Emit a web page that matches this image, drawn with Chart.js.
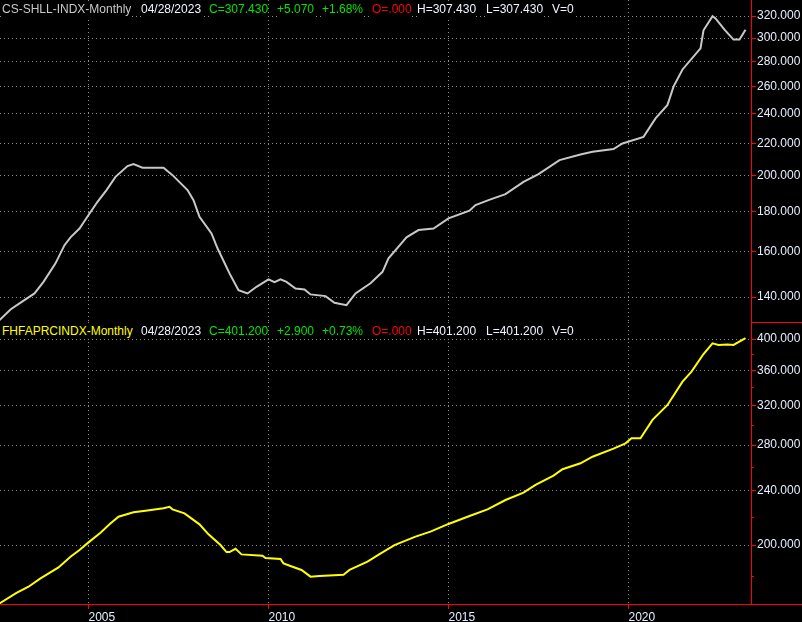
<!DOCTYPE html>
<html lang="en">
<head>
<meta charset="UTF-8">
<title>CS-SHLL-INDX / FHFAPRCINDX Monthly</title>
<script src="https://cdn.jsdelivr.net/npm/chart.js"></script>
<style>
  html, body { margin: 0; padding: 0; background: #000; }
  body {
    width: 802px; height: 622px; position: relative; overflow: hidden;
    font-family: "Liberation Sans", Arial, sans-serif; font-size: 12px;
  }
  .pane { position: absolute; left: 0; width: 802px; }
  #topPane { top: 0; height: 322px; }
  #bottomPane { top: 322px; height: 300px; }
  .hdr span { position: absolute; white-space: nowrap; line-height: 16px; background: #000; z-index: 2; }
  .red { position: absolute; background: #ff0000; z-index: 3; }
  .g { color: #00e600; } .r { color: #ff0000; } .w { color: #f2f4ff; }
</style>
</head>
<body>
<div class="pane" id="topPane"><canvas id="topChart"></canvas></div>
<div class="pane" id="bottomPane"><canvas id="bottomChart"></canvas></div>

<div class="hdr">
  <span style="left:2px;top:1px;color:#c8c8c8">CS-SHLL-INDX-Monthly</span>
  <span class="w" style="left:141px;top:1px">04/28/2023</span>
  <span class="g" style="left:209px;top:1px">C=307.430</span>
  <span class="g" style="left:277px;top:1px">+5.070</span>
  <span class="g" style="left:322px;top:1px">+1.68%</span>
  <span class="r" style="left:372px;top:1px">O=.000</span>
  <span class="w" style="left:417px;top:1px">H=307.430</span>
  <span class="w" style="left:486px;top:1px">L=307.430</span>
  <span class="w" style="left:552px;top:1px">V=0</span>

  <span style="left:2px;top:323px;color:#ffff00">FHFAPRCINDX-Monthly</span>
  <span class="w" style="left:141px;top:323px">04/28/2023</span>
  <span class="g" style="left:209px;top:323px">C=401.200</span>
  <span class="g" style="left:277px;top:323px">+2.900</span>
  <span class="g" style="left:322px;top:323px">+0.73%</span>
  <span class="r" style="left:372px;top:323px">O=.000</span>
  <span class="w" style="left:417px;top:323px">H=401.200</span>
  <span class="w" style="left:486px;top:323px">L=401.200</span>
  <span class="w" style="left:552px;top:323px">V=0</span>
</div>

<div class="red" style="left:751px;top:0;width:1px;height:604px"></div>
<div class="red" style="left:751px;top:322px;width:51px;height:1px"></div>
<div class="red" style="left:0;top:604px;width:802px;height:1px"></div>

<script>
// Case-Shiller index (top panel)
const shillerMonths = ['2002-07','2002-11','2003-02','2003-07','2003-10','2004-02','2004-05','2004-07','2004-10','2004-12',
  '2005-04','2005-07','2005-10','2006-02','2006-04','2006-07','2006-10','2007-02','2007-05','2007-10','2007-12',
  '2008-02','2008-06','2008-08','2008-12','2009-03','2009-06','2009-09','2010-01','2010-03','2010-05','2010-07',
  '2010-10','2011-01','2011-03','2011-08','2011-11','2012-03','2012-06','2012-11','2013-03','2013-05','2013-09',
  '2013-11','2014-03','2014-08','2015-01','2015-08','2015-10','2016-03','2016-08','2017-02','2017-07','2018-02',
  '2018-09','2019-01','2019-08','2019-11','2020-06','2020-10','2021-02','2021-04','2021-07','2022-01','2022-02',
  '2022-05','2022-06','2022-09','2022-12','2023-02','2023-04'];
const shillerValues = [130.5,135.0,137.4,141.5,146.4,154.6,163.1,166.9,171.3,175.9,
  185.3,191.8,199.4,205.8,207.0,204.8,204.8,204.8,200.4,191.8,186.2,
  177.3,168.8,161.6,150.1,142.9,141.5,144.3,147.5,146.3,147.5,146.4,
  143.6,143.2,141.1,140.4,137.7,136.7,141.5,145.8,150.8,156.9,163.5,
  166.9,170.5,171.3,176.5,180.5,183.5,186.6,189.5,196.5,201.0,209.5,
  213.0,214.7,216.4,220.0,224.3,236.8,246.4,260.0,273.5,291.0,306.9,
  319.9,317.8,307.5,298.6,298.6,307.43];

// FHFA purchase-only index (bottom panel)
const fhfaMonths = ['2002-07','2003-01','2003-05','2003-09','2004-03','2004-07','2004-10','2005-01','2005-05','2005-08',
  '2005-11','2006-04','2006-08','2007-02','2007-04','2007-05','2007-09','2008-02','2008-05','2008-09','2008-11',
  '2008-12','2009-02','2009-04','2009-11','2009-12','2010-05','2010-06','2010-09','2010-12','2011-03','2011-06',
  '2012-02','2012-04','2012-10','2013-02','2013-07','2014-02','2014-07','2015-01','2015-08','2016-02','2016-08',
  '2017-02','2017-06','2017-12','2018-03','2018-09','2019-01','2019-08','2019-12','2020-02','2020-05','2020-09',
  '2021-02','2021-07','2021-10','2022-02','2022-05','2022-07','2022-10','2022-12','2023-04'];
const fhfaValues = [164.0,170.3,173.8,178.8,185.5,192.3,196.7,201.8,208.5,214.4,
  220.0,223.3,224.5,226.3,227.5,225.5,222.5,214.4,207.3,200.0,195.3,
  195.3,197.5,193.8,192.9,191.4,190.8,188.0,185.9,183.9,179.8,180.2,
  181.0,183.9,189.1,194.0,200.0,205.7,209.2,214.7,220.5,225.5,232.7,
  238.5,244.8,252.6,258.1,263.3,269.2,276.6,281.6,286.5,286.5,304.7,
  320.4,346.6,358.4,380.3,394.3,392.1,392.8,392.1,401.2];

const yearLabels = ['2005', '2010', '2015', '2020'];
const shillerTicks = [140, 160, 180, 200, 220, 240, 260, 280, 300, 320];
const fhfaTicks = [200, 240, 280, 320, 360, 400];
const fhfaMinorTicks = [180, 220, 260, 300, 340, 380];

const GRID = '#8c8c8c';
const LABEL = '#e6eeff';
const FONT = { family: '"Liberation Sans", Arial, sans-serif', size: 12 };

// months counted from Jan 2005
function monthIndex(s) {
  const [y, m] = s.split('-').map(Number);
  return (y - 2005) * 12 + (m - 1);
}
const yearTicks = yearLabels.map(y => monthIndex(y + '-01'));
const X_MIN = -29.5, X_MAX = 220.83;

const minorTicks = {
  id: 'minorTicks',
  afterDraw(chart, args, opts) {
    if (!opts.values || !opts.values.length) return;
    const s = chart.scales.y, ctx = chart.ctx, x = chart.chartArea.right;
    ctx.save();
    ctx.strokeStyle = '#ff0000';
    ctx.lineWidth = 1;
    opts.values.forEach(v => {
      const y = Math.round(s.getPixelForValue(v)) + 0.5;
      ctx.beginPath(); ctx.moveTo(x, y); ctx.lineTo(x + 3, y); ctx.stroke();
    });
    ctx.restore();
  }
};

function makePanel(id, months, values, cfg) {
  const points = months.map((m, i) => ({ x: monthIndex(m), y: values[i] }));
  return new Chart(document.getElementById(id), {
    type: 'line',
    data: { datasets: [{ data: points, borderColor: cfg.color, borderWidth: 2, pointRadius: 0, tension: 0, fill: false }] },
    options: {
      responsive: true,
      maintainAspectRatio: false,
      animation: false,
      layout: { padding: 0 },
      plugins: { legend: { display: false }, tooltip: { enabled: false }, minorTicks: { values: cfg.minor } },
      scales: {
        x: {
          type: 'linear', min: X_MIN, max: X_MAX, bounds: 'data',
          afterBuildTicks: s => { s.ticks = yearTicks.map(v => ({ value: v })); },
          grid: { color: GRID, tickColor: '#ff0000', tickLength: 5, drawTicks: cfg.years },
          border: { display: false, dash: [1, 3] },
          ticks: {
            display: cfg.years, color: LABEL, font: FONT, padding: 1, align: 'start',
            maxRotation: 0, autoSkip: false,
            callback: v => yearLabels[yearTicks.indexOf(v)]
          },
          afterFit: s => { s.height = cfg.years ? 18 : 0; s.paddingLeft = 0; s.paddingRight = 0; }
        },
        y: {
          type: 'logarithmic', position: 'right', min: cfg.min, max: cfg.max, bounds: 'data',
          afterBuildTicks: s => { s.ticks = cfg.ticks.map(v => ({ value: v })); },
          grid: { color: GRID, tickColor: '#ff0000', tickLength: 5 },
          border: { display: false, dash: [1, 3] },
          ticks: { color: LABEL, font: FONT, padding: 1, autoSkip: false, callback: v => Number(v).toFixed(3) },
          afterFit: s => { s.width = 51; s.paddingTop = 0; s.paddingBottom = 0; }
        }
      }
    },
    plugins: [minorTicks]
  });
}

makePanel('topChart', shillerMonths, shillerValues,
  { color: '#c8c8c8', min: 130.1, max: 335.5, ticks: shillerTicks, minor: [], years: false });
makePanel('bottomChart', fhfaMonths, fhfaValues,
  { color: '#ffff00', min: 164, max: 423.6, ticks: fhfaTicks, minor: fhfaMinorTicks, years: true });
</script>
</body>
</html>
